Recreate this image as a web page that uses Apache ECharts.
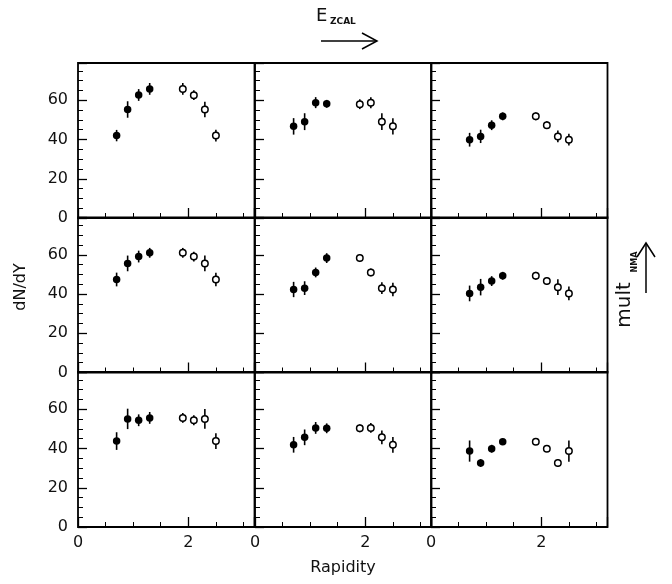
<!DOCTYPE html>
<html>
<head>
<meta charset="utf-8">
<script src="https://cdn.jsdelivr.net/npm/echarts@6/dist/echarts.min.js"></script>
<style>
  html, body { margin: 0; padding: 0; background: #fff; }
  #main { width: 672px; height: 584px; }
</style>
</head>
<body>
<div id="main"></div>
<script>
  // rapidity bins (filled = measured, open = reflected)
  const rapidityFilled = [0.7, 0.9, 1.1, 1.3]
  const rapidityOpen = [1.9, 2.1, 2.3, 2.5]

  // dN/dY per panel, row by row (E_ZCAL left -> right, mult_NMA top -> bottom)
  const filledY = [
    [42.0, 55.3, 62.7, 65.8],
    [46.7, 49.1, 58.8, 58.2],
    [39.9, 41.6, 47.3, 51.8],
    [47.4, 55.6, 59.1, 61.0],
    [42.3, 43.0, 51.0, 58.3],
    [40.3, 43.5, 46.6, 49.3],
    [43.8, 55.1, 54.4, 55.6],
    [41.9, 45.7, 50.5, 50.3],
    [38.7, 32.6, 39.9, 43.5]
  ]
  const filledErr = [
    [2.9, 4.2, 3.0, 3.0],
    [4.2, 4.3, 2.8, 2.0],
    [3.5, 3.4, 2.5, 2.0],
    [3.5, 4.0, 3.0, 2.5],
    [3.9, 3.5, 2.5, 2.5],
    [4.0, 4.2, 2.5, 2.0],
    [4.5, 5.2, 3.0, 3.0],
    [4.0, 4.0, 3.0, 2.5],
    [5.4, 2.0, 2.0, 1.5]
  ]
  const openY = [
    [65.8, 62.6, 55.3, 42.0],
    [58.0, 58.8, 49.1, 46.7],
    [51.8, 47.3, 41.6, 39.9],
    [61.0, 59.1, 55.6, 47.4],
    [58.3, 51.0, 43.0, 42.3],
    [49.3, 46.6, 43.5, 40.3],
    [55.6, 54.4, 55.1, 43.8],
    [50.3, 50.5, 45.7, 41.9],
    [43.5, 39.9, 32.6, 38.7]
  ]
  const openErr = [
    [3.0, 2.5, 4.0, 3.0],
    [2.5, 2.8, 4.3, 4.2],
    [2.0, 2.0, 3.0, 3.0],
    [2.5, 2.5, 4.0, 3.5],
    [2.0, 2.0, 3.0, 3.5],
    [2.0, 2.0, 4.0, 3.5],
    [2.5, 2.5, 5.0, 4.0],
    [2.0, 2.5, 3.5, 4.0],
    [1.5, 1.5, 2.0, 5.4]
  ]
  const yTickLabels = [0, 20, 40, 60]
  const xTickLabels = [0, 2]

  const FONT = 'DejaVu Sans'
  const colLeft = [78, 255, 431]
  const rowTop = [63, 217.5, 372]
  const panelW = 176.5
  const panelH = 155

  let chart = echarts.init(document.getElementById('main'))

  let grids = [], xAxes = [], yAxes = [], series = []

  function errorBars(i, xs, ys, errs) {
    return {
      type: 'custom',
      xAxisIndex: 2 * i,
      yAxisIndex: 2 * i,
      z: 2,
      silent: true,
      data: ys.map((v, k) => [xs[k], v, errs[k]]),
      encode: { x: 0, y: 1 },
      renderItem(params, api) {
        let x = api.value(0), y = api.value(1), e = api.value(2)
        let lo = api.coord([x, y - e]), hi = api.coord([x, y + e])
        return {
          type: 'line',
          shape: { x1: lo[0], y1: lo[1], x2: hi[0], y2: hi[1] },
          style: { stroke: '#000', lineWidth: 1.6 }
        }
      }
    }
  }

  // ticks point into the frame: the axis is shifted inward by its tick length
  function tickAxis(base, len, width) {
    return Object.assign({
      type: 'value',
      offset: -len,
      axisLine: { show: false, onZero: false },
      splitLine: { show: false },
      axisTick: { show: true, length: len, lineStyle: { color: '#000', width: width } }
    }, base)
  }

  for (let i = 0; i < 9; i++) {
    let r = Math.floor(i / 3), c = i % 3
    grids.push({
      left: colLeft[c], top: rowTop[r], width: panelW, height: panelH,
      show: true, borderColor: '#000', borderWidth: 1.8, backgroundColor: 'transparent',
      outerBoundsMode: 'none', containLabel: false
    })
    xAxes.push(tickAxis({
      gridIndex: i, position: 'bottom', min: 0, max: 3.2, interval: 0.5,
      axisLabel: { show: false }
    }, 5, 1))
    xAxes.push(tickAxis({
      gridIndex: i, position: 'bottom', min: 0, max: 3.2, interval: 2,
      axisLabel: {
        show: r === 2, margin: 18, fontFamily: FONT, fontSize: 16, color: '#111',
        formatter: v => xTickLabels.indexOf(v) >= 0 ? String(v) : ''
      }
    }, 10, 1.3))
    yAxes.push(tickAxis({
      gridIndex: i, position: 'left', min: 0, max: 79, interval: 5,
      axisLabel: { show: false }
    }, 5, 1))
    yAxes.push(tickAxis({
      gridIndex: i, position: 'left', min: 0, max: 79, interval: 20,
      axisLabel: {
        show: c === 0, margin: 19, fontFamily: FONT, fontSize: 16, color: '#111',
        formatter: v => yTickLabels.indexOf(v) >= 0 ? String(v) : ''
      }
    }, 9, 1.3))

    series.push(errorBars(i, rapidityFilled, filledY[i], filledErr[i]))
    series.push(errorBars(i, rapidityOpen, openY[i], openErr[i]))
    series.push({
      type: 'scatter', xAxisIndex: 2 * i, yAxisIndex: 2 * i, z: 3,
      symbol: 'circle', symbolSize: 7.5,
      itemStyle: { color: '#000', opacity: 1 },
      data: filledY[i].map((v, k) => [rapidityFilled[k], v])
    })
    series.push({
      type: 'scatter', xAxisIndex: 2 * i, yAxisIndex: 2 * i, z: 3,
      symbol: 'circle', symbolSize: 6.5,
      itemStyle: { color: '#fff', borderColor: '#000', borderWidth: 1.5, opacity: 1 },
      data: openY[i].map((v, k) => [rapidityOpen[k], v])
    })
  }

  let option = {
    animation: false,
    backgroundColor: '#fff',
    grid: grids,
    xAxis: xAxes,
    yAxis: yAxes,
    series: series,
    graphic: [
      // E_ZCAL with arrow
      { type: 'text', left: 316, top: 7, style: { text: 'E', fontFamily: FONT, fontSize: 18, fill: '#111' } },
      { type: 'text', left: 330, top: 17, style: { text: 'ZCAL', fontFamily: FONT, fontSize: 9, fontWeight: 'bold', fill: '#111' } },
      { type: 'line', shape: { x1: 321, y1: 41, x2: 377, y2: 41 }, style: { stroke: '#000', lineWidth: 1.5 } },
      { type: 'polyline', shape: { points: [[362, 33], [377, 41], [362, 49]] }, style: { stroke: '#000', lineWidth: 1.5, fill: null } },
      // mult_NMA with arrow
      {
        type: 'text', x: 625, y: 305, rotation: Math.PI / 2,
        style: { text: 'mult', fontFamily: FONT, fontSize: 20, fill: '#111', align: 'center', verticalAlign: 'middle' }
      },
      {
        type: 'text', x: 635, y: 262, rotation: Math.PI / 2,
        style: { text: 'NMA', fontFamily: FONT, fontSize: 8, fontWeight: 'bold', fill: '#111', align: 'center', verticalAlign: 'middle' }
      },
      { type: 'line', shape: { x1: 646, y1: 293, x2: 646, y2: 243 }, style: { stroke: '#000', lineWidth: 1.5 } },
      { type: 'polyline', shape: { points: [[637, 257], [646, 243], [655, 257]] }, style: { stroke: '#000', lineWidth: 1.5, fill: null } },
      // axis titles
      {
        type: 'text', x: 21, y: 287, rotation: Math.PI / 2,
        style: { text: 'dN/dY', fontFamily: FONT, fontSize: 16, fill: '#111', align: 'center', verticalAlign: 'middle' }
      },
      {
        type: 'text', x: 343, y: 568,
        style: { text: 'Rapidity', fontFamily: FONT, fontSize: 16, fill: '#111', align: 'center', verticalAlign: 'middle' }
      }
    ]
  }
  option && chart.setOption(option)
</script>
</body>
</html>
